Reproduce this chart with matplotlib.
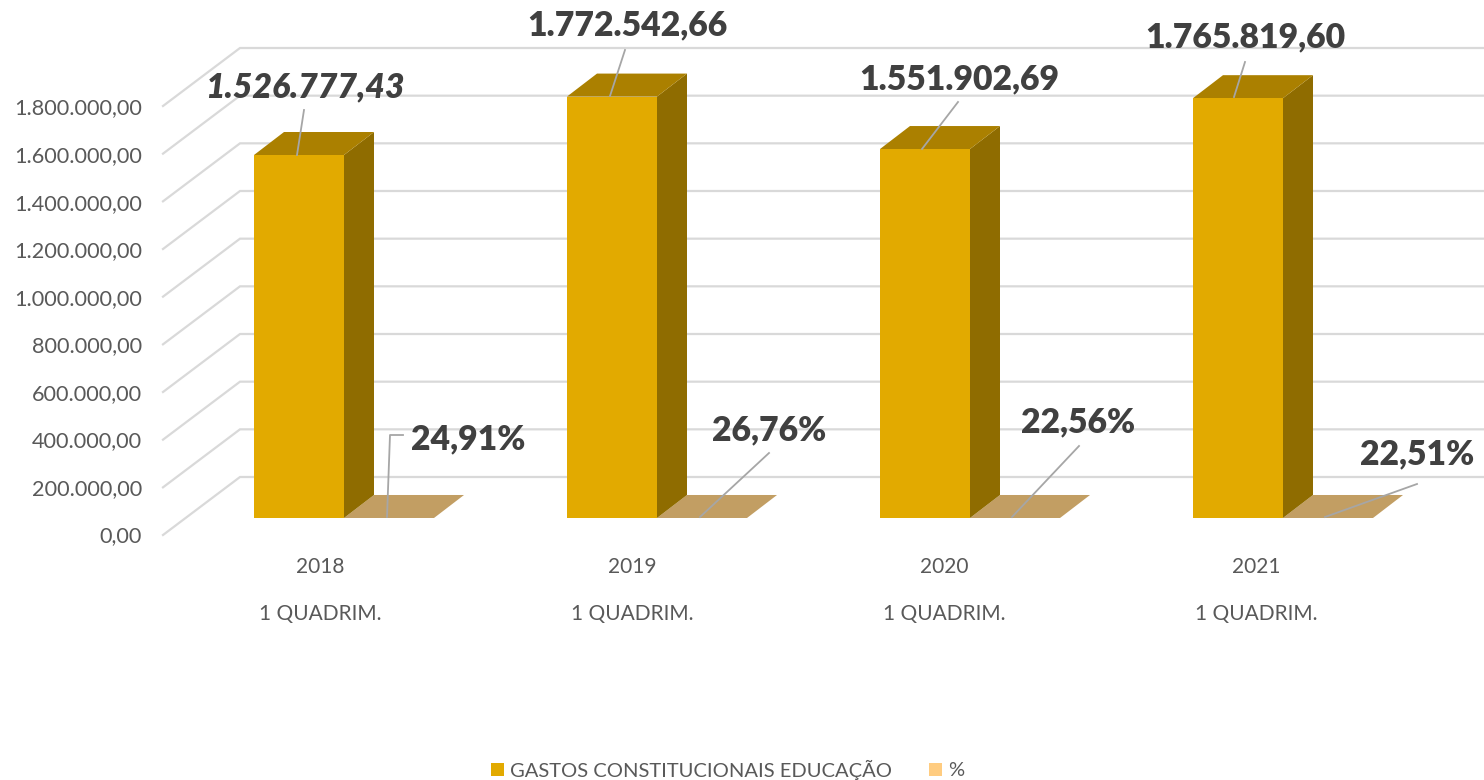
import matplotlib
matplotlib.use("Agg")
import matplotlib.pyplot as plt
from matplotlib.patches import Polygon, Rectangle

W, H = 1484, 780
years = ["2018", "2019", "2020", "2021"]
periods = ["1 QUADRIM."] * 4
gastos = [1526777.43, 1772542.66, 1551902.69, 1765819.60]
gastos_labels = ["1.526.777,43", "1.772.542,66", "1.551.902,69", "1.765.819,60"]
pct = [24.91, 26.76, 22.56, 22.51]
pct_labels = ["24,91%", "26,76%", "22,56%", "22,51%"]
ticks = [i * 200000 for i in range(10)]
tick_labels = ["0,00", "200.000,00", "400.000,00", "600.000,00", "800.000,00",
               "1.000.000,00", "1.200.000,00", "1.400.000,00", "1.600.000,00", "1.800.000,00"]
series_names = ["GASTOS CONSTITUCIONAIS EDUCAÇÃO", "%"]

C_FRONT, C_TOP, C_SIDE = "#E2AA00", "#AB8000", "#8F6C00"
C_FLAT, C_LEG2 = "#C29E63", "#FFCC80"
GRID = "#D9D9D9"; TXT = "#595959"; LBL = "#404040"; LEAD = "#A6A6A6"
FONT = "Lato"

PX_PER_VAL = 47.55 / 200000
BASE_Y = 518
BAR0_X, STEP_X, BAR_W = 254, 313, 90
DX, DY = 30, 23

fig = plt.figure(figsize=(W / 100, H / 100), dpi=100, facecolor="white")
ax = fig.add_axes([0, 0, 1, 1])
ax.axis("off")
# x: category index, y: value, both mapped linearly onto the pixel grid
ax.set_xlim(-BAR0_X / STEP_X, (W - BAR0_X) / STEP_X)
ax.set_ylim(-(H - BASE_Y) / PX_PER_VAL, BASE_Y / PX_PER_VAL)

def vx(px): return px / STEP_X
def vy(px): return px / PX_PER_VAL
def P(x, y): return (x - BAR0_X) / STEP_X, (BASE_Y - y) / PX_PER_VAL

# walls
for v in ticks:
    off = v * PX_PER_VAL
    yb = 477 - off * 429 / (9 * 47.55)
    yf = yb + 58
    ax.plot(*zip(P(163, yf), P(240, yb), P(1484, yb)), color=GRID, lw=1.6, zorder=1, solid_joinstyle="miter")

def box(i, x0, v, cf, ct, cs, z):
    x = i + vx(x0)
    w, dx, dy = vx(BAR_W), vx(DX), vy(DY)
    ax.add_patch(Polygon([(x + w, 0), (x + w + dx, dy), (x + w + dx, v + dy), (x + w, v)], fc=cs, ec="none", zorder=z))
    ax.add_patch(Polygon([(x, v), (x + dx, v + dy), (x + w + dx, v + dy), (x + w, v)], fc=ct, ec="none", zorder=z))
    ax.add_patch(Rectangle((x, 0), w, v, fc=cf, ec="none", zorder=z))

for i in range(4):
    box(i, BAR_W, pct[i], C_FLAT, C_FLAT, C_FLAT, 2)
    box(i, 0, gastos[i], C_FRONT, C_TOP, C_SIDE, 3)

# tick labels
for v, s in zip(ticks, tick_labels):
    y = 536.5 - v * PX_PER_VAL
    ax.text(*P(142, y), s, ha="right", va="center", fontsize=15.6, color=TXT, family=FONT)

# category labels
for i in range(4):
    cx = 320 + 312 * i
    ax.text(*P(cx, 567), years[i], ha="center", va="center", fontsize=15, color=TXT, family=FONT)
    ax.text(*P(cx, 614), periods[i], ha="center", va="center", fontsize=15, color=TXT, family=FONT)

# data labels and leaders
lab_g = [(305, 87), (627, 25), (959, 79), (1245, 37)]
lead_g = [[(297, 155), (304, 110)], [(610, 96), (625, 50)], [(922, 149), (958, 102)], [(1234, 97), (1245, 62)]]
lab_p = [(468, 439), (769, 430), (1078, 422), (1417, 454)]
lead_p = [[(387, 517), (390, 435), (403, 435)], [(700, 517), (769, 453)], [(1012, 517), (1079, 446)], [(1325, 517), (1417, 484)]]
for i in range(4):
    for pts in (lead_g[i], lead_p[i]):
        ax.plot(*zip(*[P(*p) for p in pts]), color=LEAD, lw=1.3, zorder=4)
    ax.text(*P(*lab_g[i]), gastos_labels[i], ha="center", va="center", fontsize=24.3, fontweight="heavy",
            fontstyle="italic" if i == 0 else "normal", color=LBL, family=FONT, zorder=5)
    ax.text(*P(*lab_p[i]), pct_labels[i], ha="center", va="center", fontsize=24.3, fontweight="heavy",
            color=LBL, family=FONT, zorder=5)

# legend
for x0, col, name, tx in [(491, C_FRONT, series_names[0], 510), (929, C_LEG2, series_names[1], 948)]:
    ax.add_patch(Polygon([P(x0, 763), P(x0 + 13, 763), P(x0 + 13, 776), P(x0, 776)], fc=col, ec="none"))
    ax.text(*P(tx, 770), name, ha="left", va="center", fontsize=14.5, color=TXT, family=FONT)

fig.savefig("out.png", dpi=100)
